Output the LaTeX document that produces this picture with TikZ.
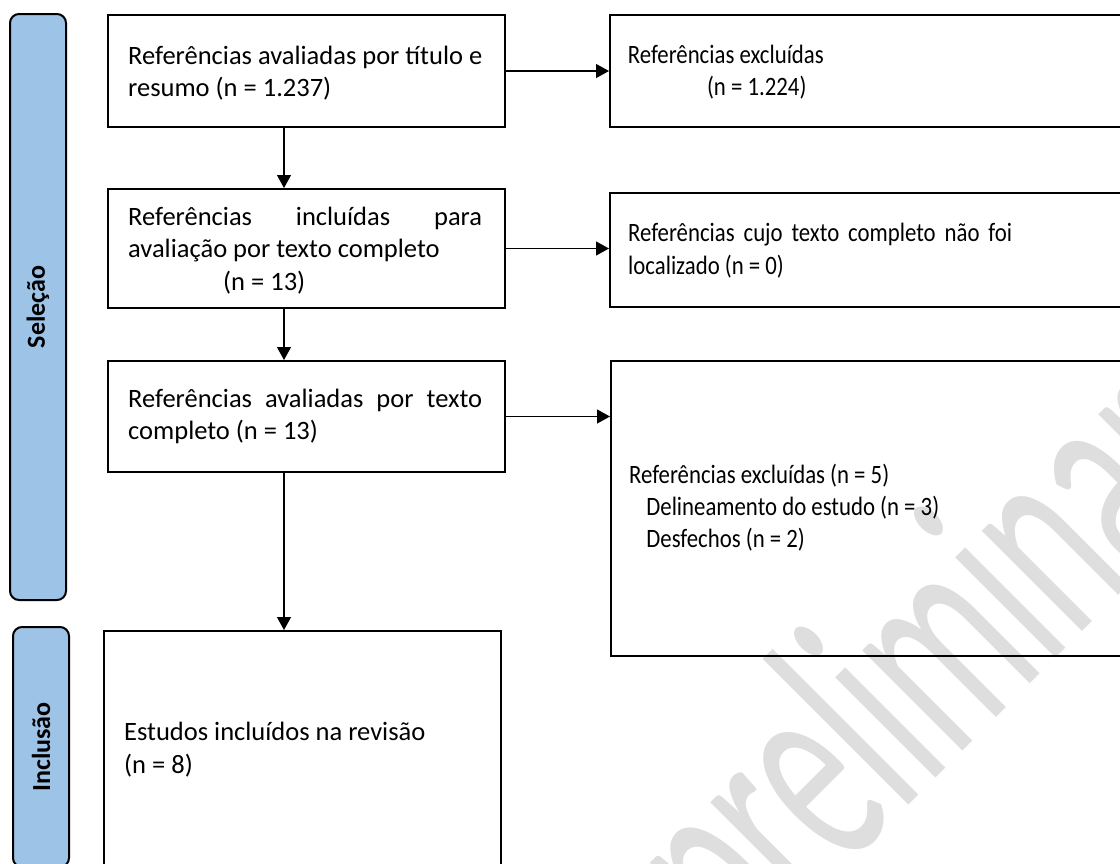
\documentclass[tikz,border=0pt]{standalone}
\usepackage{fontspec}
\setmainfont{Carlito}
\usetikzlibrary{arrows.meta}
\definecolor{barblue}{HTML}{9DC3E6}
\definecolor{wmgray}{HTML}{DEDEDE}

\begin{document}
\begin{tikzpicture}[x=1pt,y=-1pt,>={Triangle[length=13pt,width=14pt]},
  txt/.style={font=\fontsize{26.5}{32.5}\selectfont,inner sep=0pt,anchor=base west},
  box/.style={draw=black,line width=2pt,inner sep=0pt,anchor=north west},
  bar/.style={draw=black,line width=2pt,fill=barblue,rounded corners=9pt,
    rotate=90,inner sep=0pt,font=\fontsize{26}{30}\selectfont\bfseries},
  arr/.style={line width=1.2pt,->},
  wm/.style={wmgray,inner sep=0pt,font=\fontsize{165}{165}\selectfont},
]

\useasboundingbox (0,0) rectangle (1120,863);

\def\colW{397}
\def\outW{521}
\def\sq{0.86}

% ------------------------------------------------------------------
% watermark
% ------------------------------------------------------------------
\node[wm,anchor=base west,rotate=45] (mark) at (742,972)
  {\scalebox{1}[1.8]{preliminar}};

% ------------------------------------------------------------------
% stage bars
% ------------------------------------------------------------------
\node[bar,minimum width=586,minimum height=56] (selecao) at (38,307) {Seleção};
\node[bar,minimum width=240,minimum height=56] (inclusao) at (41,747) {Inclusão};

% ------------------------------------------------------------------
% main column
% ------------------------------------------------------------------
\node[box,minimum width=\colW,minimum height=112] (triagem) at (107,14) {};
\node[txt] (triagemtxt) at (128,64.3)
  {\vtop{\hbox{Referências avaliadas por título e}\hbox{resumo (n = 1.237)}}};

\node[box,minimum width=\colW,minimum height=119] (incluidas) at (107,188) {};
\node[txt] (incluidastxt) at (128,225.3)
  {\vtop{\hbox to 354pt{Referências incluídas para}%
    \hbox{avaliação por texto completo}\hbox{\hspace*{95pt}(n = 13)}}};

\node[box,minimum width=\colW,minimum height=111] (completo) at (107,360) {};
\node[txt] (completotxt) at (128,407.3)
  {\vtop{\hbox to 354pt{Referências avaliadas por texto}\hbox{completo (n = 13)}}};

\node[box,minimum width=\colW,minimum height=270] (estudos) at (103,630) {};
\node[txt] (estudostxt) at (124,740.7)
  {\vtop{\hbox{Estudos incluídos na revisão}\hbox{(n = 8)}}};

% ------------------------------------------------------------------
% exclusions (text set narrower)
% ------------------------------------------------------------------
\node[box,minimum width=\outW,minimum height=112] (excl) at (609,14) {};
\node[txt] (excltxt) at (627.7,63.3)
  {\scalebox{\sq}[1]{\vtop{\hbox{Referências excluídas}%
    \hbox{\hspace*{92pt}(n = 1.224)}}}};

\node[box,minimum width=\outW,minimum height=114] (naoloc) at (609,192) {};
\node[txt] (naoloctxt) at (628,241.7)
  {\scalebox{\sq}[1]{\vtop{\hbox to 446.5pt{Referências cujo texto completo não foi}%
    \hbox{localizado (n = 0)}}}};

\node[box,minimum width=\outW,minimum height=295] (motivos) at (610,360) {};
\node[txt,font=\fontsize{26.5}{32}\selectfont] (motivostxt) at (629,483.3)
  {\scalebox{\sq}[1]{\vtop{\hbox{Referências excluídas (n = 5)}%
    \hbox{\hspace*{20pt}Delineamento do estudo (n = 3)}%
    \hbox{\hspace*{20pt}Desfechos (n = 2)}}}};

% ------------------------------------------------------------------
% connectors
% ------------------------------------------------------------------
\coordinate (spine) at (284,0);
\draw[arr] (triagem.south -| spine) -- (incluidas.north -| spine);
\draw[arr] (incluidas.south -| spine) -- (completo.north -| spine);
\draw[arr] (completo.south -| spine) -- (estudos.north -| spine);

\draw[arr] (triagem.east) -- (triagem.east -| excl.west);
\draw[arr] (incluidas.east) -- (incluidas.east -| naoloc.west);
\draw[arr] (completo.east) -- (completo.east -| motivos.west);

\end{tikzpicture}
\end{document}
